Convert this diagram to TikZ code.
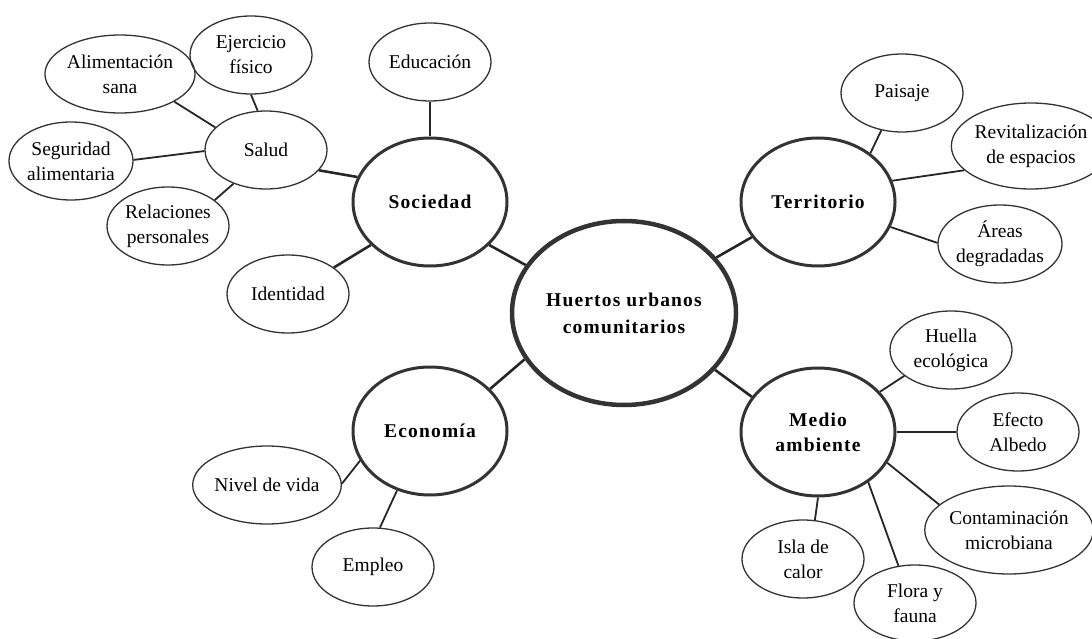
\documentclass[tikz,border=0pt]{standalone}
\usepackage{fontspec}
\setmainfont{Liberation Serif}
\newfontfamily\spacedfont[LetterSpace=6]{Liberation Serif}
\usetikzlibrary{shapes.geometric}

\begin{document}
\begin{tikzpicture}[x=1pt, y=-1pt,
	leaf/.style={ellipse, draw=black!80, line width=1.3pt, inner sep=0pt, minimum width=122pt, minimum height=78pt, align=center, text=black, font=\fontsize{19.5}{25}\selectfont},
	topic/.style={ellipse, draw=black!80, line width=3pt, inner sep=0pt, minimum width=154pt, minimum height=128pt, align=center, text=black, font=\spacedfont\bfseries\fontsize{19.5}{25}\selectfont},
	hub/.style={topic, line width=4.5pt, minimum width=224pt, minimum height=184pt, font=\spacedfont\bfseries\fontsize{19.5}{27}\selectfont},
	thicklink/.style={draw=black!85, line width=2.6pt},
	thinlink/.style={draw=black!85, line width=1.8pt}]
			\useasboundingbox (0,0) rectangle (1092,639);
			
			% centre and the four topics
			\node[hub] (H) at (624,313) {Huertos urbanos\\comunitarios};
			\node[topic] (So) at (430,202) {Sociedad};
			\node[topic] (Te) at (818,202) {Territorio};
			\node[topic] (Ec) at (430,431) {Economía};
			\node[topic] (Ma) at (818,432) {Medio\\ambiente};
			
			% Sociedad
			\node[leaf] (Ed) at (430,62) {Educación};
			\node[leaf] (Sa) at (266,150) {Salud};
			\node[leaf] (Id) at (288,294) {Identidad};
			\node[leaf] (Ej) at (251,55) {Ejercicio\\físico};
			\node[leaf] (Al) at (120,74) {Alimentación\\sana};
			\node[leaf] (Se) at (71,161) {Seguridad\\alimentaria};
			\node[leaf] (Re) at (168,226) {Relaciones\\personales};
			
			% Territorio
			\node[leaf] (Pa) at (902,93) {Paisaje};
			\node[leaf, minimum width=128pt, minimum height=86pt] (Rv) at (1031,146) {Revitalización\\de espacios};
			\node[leaf] (Ar) at (1000,244) {Áreas\\degradadas};
			
			% Medio ambiente
			\node[leaf] (Hu) at (951,350) {Huella\\ecológica};
			\node[leaf] (Ef) at (1018,432) {Efecto\\Albedo};
			\node[leaf, minimum width=140pt, minimum height=88pt] (Co) at (1009,530) {Contaminación\\microbiana};
			\node[leaf, minimum height=76pt] (Fl) at (915,603) {Flora y\\fauna};
			\node[leaf] (Is) at (803,559) {Isla de\\calor};
			
			% Economía
			\node[leaf] (Ni) at (267,485) {Nivel de vida};
			\node[leaf] (Em) at (373,567) {Empleo};
			
			\draw[thicklink] (H.154.6) -- (So.-36);
			\draw[thicklink] (H.31) -- (Te.-152.7);
			\draw[thicklink] (H.205.8) -- (Ec.35.4);
			\draw[thicklink] (H.-32.6) -- (Ma.152);
			
			\draw[thicklink] (Ed.-90) -- (So.90);
			\draw[thicklink] (Sa.-21.3) -- (So.161);
			\draw[thicklink] (Id.30.4) -- (So.-144);
			\draw[thinlink] (Al.-27) -- (Sa.156.7);
			\draw[thinlink] (Ej.-90) -- (Sa.102.7);
			\draw[thinlink] (Se.1) -- (Sa.181);
			\draw[thinlink] (Re.29) -- (Sa.-134);
			
			\draw[thinlink] (Te.43.3) -- (Pa.-119.4);
			\draw[thinlink] (Te.16.8) -- (Rv.-160);
			\draw[thinlink] (Te.-19) -- (Ar.179);
			
			\draw[thinlink] (Ma.33.9) -- (Hu.-151);
			\draw[thinlink] (Ma.0) -- (Ef.180);
			\draw[thinlink] (Ma.-24) -- (Co.160.7);
			\draw[thinlink] (Ma.-45) -- (Fl.114);
			\draw[thinlink] (Ma.-90) -- (Is.73.8);
			
			\draw[thinlink] (Ni.1) -- (Ec.-157.5);
			\draw[thinlink] (Em.80) -- (Ec.-119);
\end{tikzpicture}
\end{document}
